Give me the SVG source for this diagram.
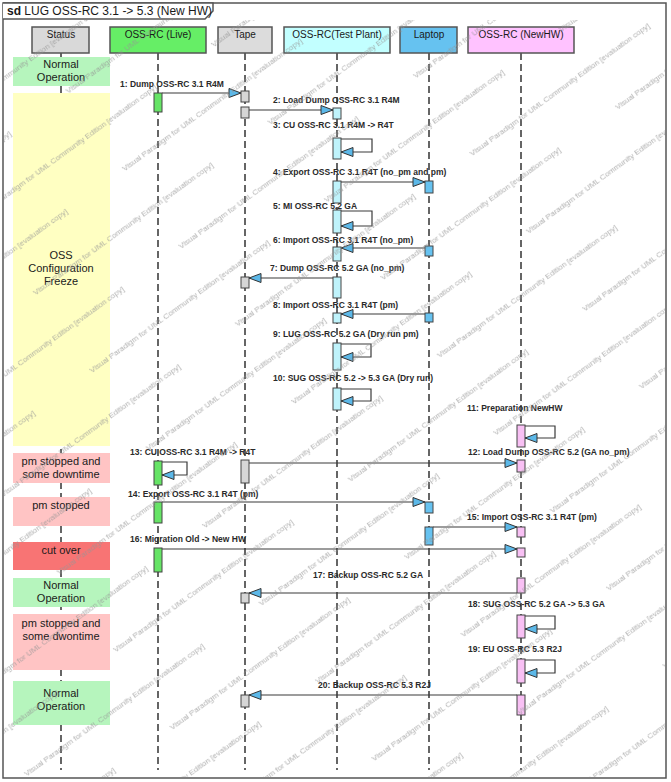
<svg xmlns="http://www.w3.org/2000/svg" width="671" height="782" viewBox="0 0 671 782">
<style>
text{font-family:"Liberation Sans",Arial,Helvetica,sans-serif;fill:#1a1a1a}
.lbl{font-size:8.5px;font-weight:bold;fill:#2a2a2a}
.hdr{font-size:10px;text-anchor:middle}
.st{font-size:11px;text-anchor:middle}
.life{stroke:#333;stroke-width:1.5;stroke-dasharray:7 4;fill:none}
.msg{stroke:#3a3a3a;stroke-width:1.2;fill:none;marker-end:url(#ah)}
.box{stroke:#555;stroke-width:1.5}
.act{stroke:#444;stroke-width:1}
.wm{font-size:8px;fill:#959595}
</style>
<defs>
<marker id="ah" markerUnits="userSpaceOnUse" markerWidth="14" markerHeight="11" refX="13" refY="5.5" orient="auto">
<path d="M1,1 L13,5.5 L1,10 Z" fill="#5cb8e8" stroke="#333" stroke-width="1"/>
</marker>
<pattern id="wmp" patternUnits="userSpaceOnUse" width="290" height="96" patternTransform="rotate(-36)">
<text class="wm" x="0" y="20">Visual Paradigm for UML Community Edition [evaluation copy]</text>
<text class="wm" x="145" y="68">Visual Paradigm for UML Community Edition [evaluation copy]</text>
<text class="wm" x="-145" y="68">Visual Paradigm for UML Community Edition [evaluation copy]</text>
</pattern>
</defs>
<rect x="0" y="0" width="671" height="782" fill="#fff"/>
<g id="frame">
<rect x="3" y="3" width="663" height="775" fill="none" stroke="#555" stroke-width="1.5"/>
<path d="M3,3 H213 V11 L205,19 H3" fill="#fff" stroke="#555" stroke-width="1.5"/>
<text x="7" y="15" style="font-size:12px"><tspan font-weight="bold">sd</tspan> LUG OSS-RC 3.1 -&gt; 5.3 (New HW)</text>
</g>
<g id="status">
<line class="life" x1="61" y1="53" x2="61" y2="770"/>
<rect class="box" x="32" y="27" width="57" height="26" fill="#d9d9d9"/>
<text class="hdr" x="61" y="38">Status</text>
</g>
<g id="st-normal1"><rect x="13" y="57" width="97" height="29" fill="#b6f5bd"/><text class="st" x="61" y="68">Normal</text><text class="st" x="61" y="81">Operation</text></g>
<g id="st-freeze"><rect x="13" y="93" width="97" height="353" fill="#ffffc2"/><text class="st" x="61" y="259">OSS</text><text class="st" x="61" y="272">Configuration</text><text class="st" x="61" y="285">Freeze</text></g>
<g id="st-pm1"><rect x="13" y="453" width="97" height="30" fill="#ffc4c4"/><text class="st" x="61" y="465">pm stopped and</text><text class="st" x="61" y="478">some downtime</text></g>
<g id="st-pm2"><rect x="13" y="497" width="97" height="29" fill="#ffc4c4"/><text class="st" x="61" y="509">pm stopped</text></g>
<g id="st-cut"><rect x="13" y="542" width="97" height="28" fill="#f87474"/><text class="st" x="61" y="554">cut over</text></g>
<g id="st-normal2"><rect x="13" y="578" width="97" height="29" fill="#b6f5bd"/><text class="st" x="61" y="589">Normal</text><text class="st" x="61" y="602">Operation</text></g>
<g id="st-pm3"><rect x="13" y="614" width="97" height="56" fill="#ffc4c4"/><text class="st" x="61" y="627">pm stopped and</text><text class="st" x="61" y="640">some dwontime</text></g>
<g id="st-normal3"><rect x="13" y="681" width="97" height="44" fill="#b6f5bd"/><text class="st" x="61" y="697">Normal</text><text class="st" x="61" y="710">Operation</text></g>

<g id="live">
<line class="life" x1="158" y1="53" x2="158" y2="770"/>
<rect class="box" x="110" y="27" width="96" height="26" fill="#66ee66"/>
<text class="hdr" x="158" y="38">OSS-RC (Live)</text>
<g fill="#66e466" class="act">
<rect x="154" y="93" width="8" height="19"/>
<rect x="154" y="461" width="8" height="24"/>
<rect x="154" y="502" width="8" height="21"/>
<rect x="154" y="548" width="8" height="24"/>
</g>
</g>
<g id="tape">
<line class="life" x1="245" y1="53" x2="245" y2="770"/>
<rect class="box" x="218" y="27" width="54" height="26" fill="#dcdcdc"/>
<text class="hdr" x="245" y="38">Tape</text>
<g fill="#d6d6d6" class="act">
<rect x="241" y="91" width="8" height="11"/>
<rect x="241" y="107" width="8" height="11"/>
<rect x="241" y="277" width="8" height="11"/>
<rect x="241" y="460" width="8" height="23"/>
<rect x="241" y="593" width="8" height="10"/>
<rect x="241" y="695" width="8" height="12"/>
</g>
</g>
<g id="testplant">
<line class="life" x1="337" y1="53" x2="337" y2="770"/>
<rect class="box" x="284" y="27" width="106" height="26" fill="#c2ffff"/>
<text class="hdr" x="337" y="38">OSS-RC(Test Plant)</text>
<g fill="#bff3fb" class="act">
<rect x="333" y="108" width="8" height="11"/>
<rect x="333" y="138" width="8" height="21"/>
<rect x="333" y="181" width="8" height="22"/>
<rect x="333" y="210" width="8" height="23"/>
<rect x="333" y="247" width="8" height="14"/>
<rect x="333" y="277" width="8" height="21"/>
<rect x="333" y="313" width="8" height="10"/>
<rect x="333" y="343" width="8" height="27"/>
<rect x="333" y="388" width="8" height="22"/>
</g>
</g>
<g id="laptop">
<line class="life" x1="429" y1="53" x2="429" y2="770"/>
<rect class="box" x="400" y="27" width="57" height="26" fill="#66c2f0"/>
<text class="hdr" x="429" y="38">Laptop</text>
<g fill="#66c2f0" class="act">
<rect x="425" y="181" width="8" height="12"/>
<rect x="425" y="246" width="8" height="10"/>
<rect x="425" y="313" width="8" height="9"/>
<rect x="425" y="502" width="8" height="11"/>
<rect x="425" y="527" width="8" height="18"/>
</g>
</g>
<g id="newhw">
<line class="life" x1="521" y1="53" x2="521" y2="770"/>
<rect class="box" x="468" y="27" width="106" height="26" fill="#ffc2ff"/>
<text class="hdr" x="521" y="38">OSS-RC (NewHW)</text>
<g fill="#f8c0f4" class="act">
<rect x="517" y="425" width="8" height="22"/>
<rect x="517" y="460" width="8" height="12"/>
<rect x="517" y="527" width="8" height="10"/>
<rect x="517" y="548" width="8" height="9"/>
<rect x="517" y="578" width="8" height="15"/>
<rect x="517" y="615" width="8" height="23"/>
<rect x="517" y="659" width="8" height="24"/>
<rect x="517" y="695" width="8" height="20"/>
</g>
</g>

<g id="connectors">
<path class="msg" d="M162,93 H241"/>
<text class="lbl" x="120" y="87">1: Dump OSS-RC 3.1 R4M</text>
<path class="msg" d="M249,110 H333"/>
<text class="lbl" x="273" y="103">2: Load Dump OSS-RC 3.1 R4M</text>
<path class="msg" d="M341,139 H372 V152 H341"/>
<text class="lbl" x="273" y="128">3: CU OSS-RC 3.1 R4M -&gt; R4T</text>
<path class="msg" d="M341,182 H425"/>
<text class="lbl" x="273" y="175">4: Export OSS-RC 3.1 R4T (no_pm and pm)</text>
<path class="msg" d="M341,211 H372 V226 H341"/>
<text class="lbl" x="273" y="209">5: MI OSS-RC 5.2 GA</text>
<path class="msg" d="M425,248 H341"/>
<text class="lbl" x="273" y="243">6: Import OSS-RC 3.1 R4T (no_pm)</text>
<path class="msg" d="M333,278 H249"/>
<text class="lbl" x="270" y="271">7: Dump OSS-RC 5.2 GA (no_pm)</text>
<path class="msg" d="M425,314 H341"/>
<text class="lbl" x="273" y="308">8: Import OSS-RC 3.1 R4T (pm)</text>
<path class="msg" d="M341,344 H371 V357 H341"/>
<text class="lbl" x="273" y="337">9: LUG OSS-RC 5.2 GA (Dry run pm)</text>
<path class="msg" d="M341,389 H371 V401 H341"/>
<text class="lbl" x="273" y="381">10: SUG OSS-RC 5.2 -&gt; 5.3 GA (Dry run)</text>
<path class="msg" d="M525,426 H555 V438 H525"/>
<text class="lbl" x="467" y="411">11: Preparation NewHW</text>
<path class="msg" d="M249,463 H517"/>
<text class="lbl" x="468" y="455">12: Load Dump OSS-RC 5.2 (GA no_pm)</text>
<path class="msg" d="M162,462 H187 V475 H162"/>
<text class="lbl" x="130" y="455">13: CU OSS-RC 3.1 R4M -&gt; R4T</text>
<path class="msg" d="M162,502 H425"/>
<text class="lbl" x="128" y="497">14: Export OSS-RC 3.1 R4T (pm)</text>
<path class="msg" d="M433,527 H517"/>
<text class="lbl" x="467" y="520">15: Import OSS-RC 3.1 R4T (pm)</text>
<path class="msg" d="M162,549 H517"/>
<text class="lbl" x="130" y="542">16: Migration Old -&gt; New HW</text>
<path class="msg" d="M517,593 H249"/>
<text class="lbl" x="313" y="578">17: Backup OSS-RC 5.2 GA</text>
<path class="msg" d="M525,616 H555 V629 H525"/>
<text class="lbl" x="468" y="607">18: SUG OSS-RC 5.2 GA -&gt; 5.3 GA</text>
<path class="msg" d="M525,660 H555 V673 H525"/>
<text class="lbl" x="468" y="652">19: EU OSS-RC 5.3 R2J</text>
<path class="msg" d="M517,695 H249"/>
<text class="lbl" x="318" y="688">20: Backup OSS-RC 5.3 R2J</text>
</g>
<rect id="watermark" x="4" y="20" width="661" height="757" fill="url(#wmp)" opacity="0.75" pointer-events="none"/>
</svg>
